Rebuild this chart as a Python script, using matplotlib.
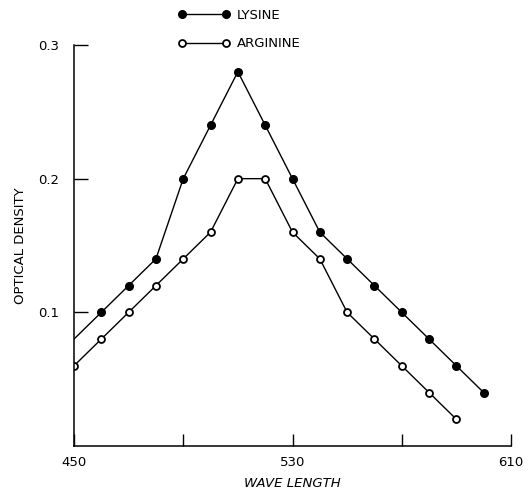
import matplotlib
matplotlib.use("Agg")
import matplotlib.pyplot as plt
from matplotlib.lines import Line2D

# wave length (x) and optical density (y)
lysine_wl = [450, 460, 470, 480, 490, 500, 510, 520, 530, 540, 550, 560, 570, 580, 590, 600]
lysine_od = [0.08, 0.10, 0.12, 0.14, 0.20, 0.24, 0.28, 0.24, 0.20, 0.16, 0.14, 0.12, 0.10, 0.08, 0.06, 0.04]

arginine_wl = [450, 460, 470, 480, 490, 500, 510, 520, 530, 540, 550, 560, 570, 580, 590]
arginine_od = [0.06, 0.08, 0.10, 0.12, 0.14, 0.16, 0.20, 0.20, 0.16, 0.14, 0.10, 0.08, 0.06, 0.04, 0.02]

x_ticks = [450, 490, 530, 570, 610]
x_labels = ['450', '', '530', '', '610']
y_ticks = [0.1, 0.2, 0.3]
y_labels = ['0.1', '0.2', '0.3']

plt.rcParams['font.family'] = ['DejaVu Sans']
fs = 9.5

fig = plt.figure(figsize=(5.28, 4.92), dpi=100)
ax = fig.add_axes([74 / 528, 1 - 446 / 492, (511 - 74) / 528, (446 - 45) / 492])

# lysine: first point has no dot in the original
ax.plot(lysine_wl, lysine_od, color='black', lw=1.0, marker='o', ms=5.5,
        markevery=slice(1, None), mfc='black', mec='black')
ax.plot(arginine_wl, arginine_od, color='black', lw=1.0, marker='o', ms=5,
        mfc='white', mec='black', mew=1.3)

ax.set_xlim(450, 610)
ax.set_ylim(0, 0.3)
ax.spines['top'].set_visible(False)
ax.spines['right'].set_visible(False)
for s in ('left', 'bottom'):
    ax.spines[s].set_linewidth(1.1)

ax.set_xticks(x_ticks)
ax.set_xticklabels(x_labels)
ax.set_yticks(y_ticks)
ax.set_yticklabels(y_labels)
ax.tick_params(axis='both', direction='in', width=1.0, labelsize=fs)
ax.tick_params(axis='x', length=9, pad=7)
ax.tick_params(axis='y', length=10, pad=11)

ax.set_xlabel('WAVE LENGTH', fontsize=fs, style='italic', labelpad=6)
ax.set_ylabel('OPTICAL DENSITY', fontsize=fs, labelpad=8)

handles = [
    Line2D([], [], color='black', lw=1.0, marker='o', ms=5.5, mfc='black', mec='black'),
    Line2D([], [], color='black', lw=1.0, marker='o', ms=5, mfc='white', mec='black', mew=1.3),
]
ax.legend(handles, ['LYSINE', 'ARGININE'], numpoints=2, frameon=False,
          loc='upper left', bbox_to_anchor=(178 / 528, 1 - 9 / 492),
          bbox_transform=fig.transFigure, fontsize=fs, handlelength=3.94,
          handletextpad=0.53, labelspacing=1.15, borderpad=0, borderaxespad=0)

fig.savefig('out.png', dpi=100)
